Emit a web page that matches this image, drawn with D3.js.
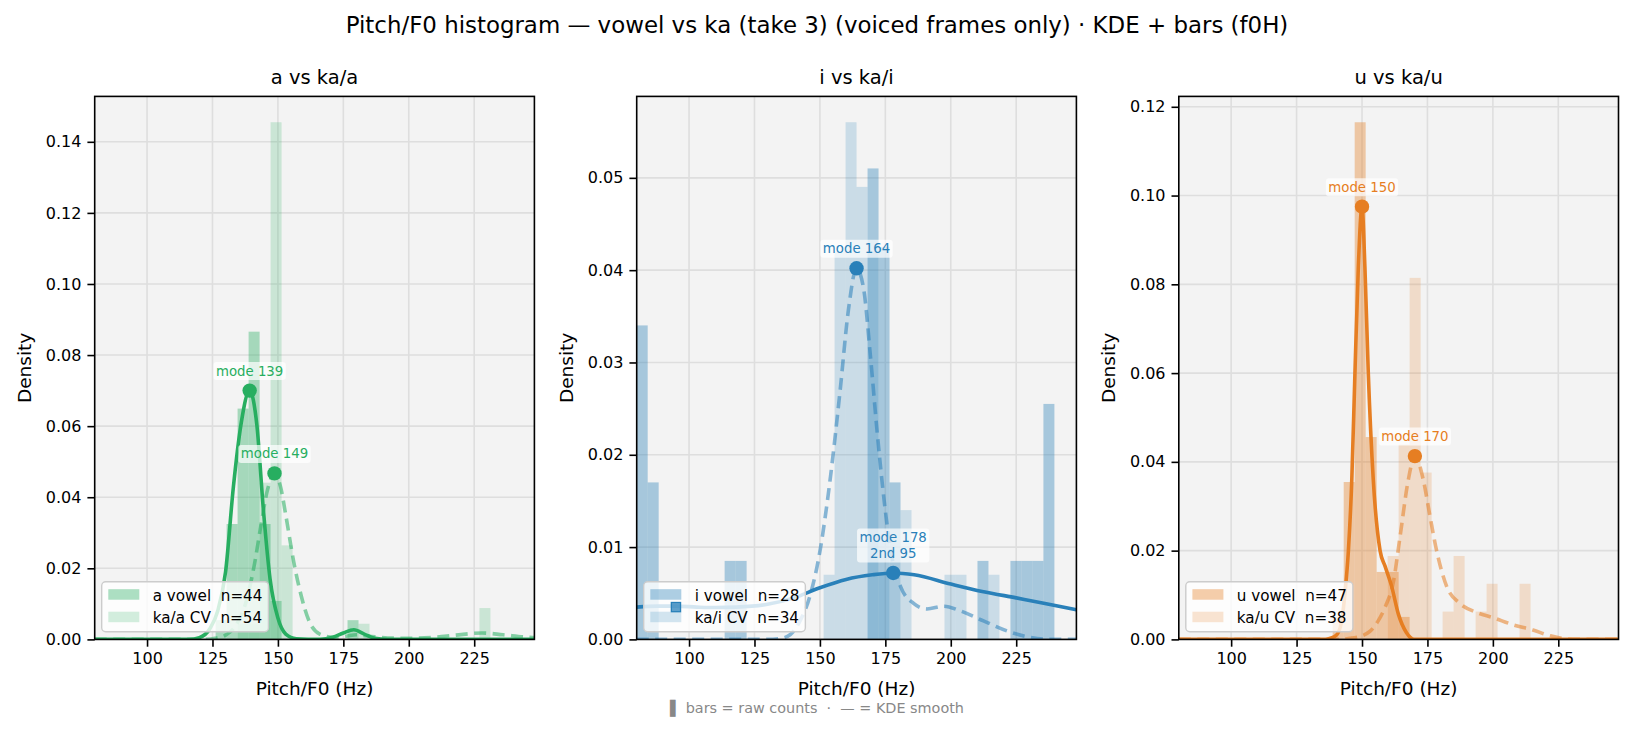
<!DOCTYPE html>
<html>
<head>
<meta charset="utf-8">
<script src="https://cdn.jsdelivr.net/npm/d3@7"></script>
<style>
  body { margin: 0; background: #fff; }
  svg { display: block; font-family: "DejaVu Sans", sans-serif; }
  .tick text { font-size: 16px; fill: #000; }
  .pre { white-space: pre; }
</style>
</head>
<body>
<svg id="chart" width="1634" height="732"></svg>
<script>
// ---------- values ----------
const BIN_W = 4.2;                       // Hz, 40 shared bins over 80-248 Hz
const X_DOMAIN = [80, 248];
const X_TICKS = [100, 125, 150, 175, 200, 225];

const panelTitles = ["a vs ka/a", "i vs ka/i", "u vs ka/u"];
const vowelNames  = ["a vowel", "i vowel", "u vowel"];
const kaNames     = ["ka/a CV", "ka/i CV", "ka/u CV"];
const vowelN = [44, 28, 47];
const kaN    = [54, 34, 38];

const yTicksA = [0, 0.02, 0.04, 0.06, 0.08, 0.10, 0.12, 0.14];
const yTicksI = [0, 0.01, 0.02, 0.03, 0.04, 0.05];
const yTicksU = [0, 0.02, 0.04, 0.06, 0.08, 0.10, 0.12];

// raw counts per bin: [left edge (Hz), count]
const aVowelCounts = [[126.2,1],[130.4,6],[134.6,12],[138.8,16],[143.0,6],[147.2,2],[176.6,1]];
const kaACounts    = [[134.6,1],[138.8,1],[143.0,10],[147.2,33],[151.4,6],[180.8,1],[227.0,2]];
const iVowelCounts = [[80.0,4],[84.2,2],[113.6,1],[117.8,1],[168.2,6],[172.4,5],[176.6,2],
                      [210.2,1],[222.8,1],[227.0,1],[231.2,1],[235.4,3]];
const kaICounts    = [[151.4,1],[155.6,6],[159.8,8],[164.0,7],[168.2,6],[172.4,1],[180.8,2],
                      [197.6,1],[201.8,1],[214.4,1]];
const uVowelCounts = [[138.8,1],[143.0,7],[147.2,23],[151.4,9],[155.6,3],[159.8,3],[164.0,1]];
const kaUCounts    = [[159.8,3],[164.0,7],[168.2,13],[172.4,6],[180.8,1],[185.0,3],[193.4,1],
                      [197.6,2],[210.2,2]];

// KDE curves: [Hz, density]
const aVowelKde = [[80,0],[116,0],[120,0.0005],[124,0.003],[127,0.008],[130,0.019],[133,0.043],
  [136,0.061],[139.2,0.070],[142,0.060],[144.5,0.036],[147,0.017],[150,0.006],[153,0.0015],
  [157,0.0002],[166,0],[171,0.0006],[175,0.0018],[179,0.0027],[183,0.0015],[187,0.0003],[192,0],[248,0]];
const kaAKde = [[80,0],[122,0],[126,0.0003],[130,0.0012],[134,0.004],[138,0.011],[141,0.021],
  [143.5,0.032],[146,0.042],[148.7,0.0467],[151,0.043],[153,0.035],[156,0.022],[159,0.012],
  [162,0.005],[166,0.0015],[171,0.0006],[176,0.0009],[180,0.0013],[185,0.0009],[192,0.0004],
  [200,0.0003],[210,0.0006],[218,0.0012],[228,0.0018],[236,0.0013],[244,0.0007],[248,0.0005]];
const iVowelKde = [[80,0.0035],[88,0.0036],[95,0.0036],[103,0.0035],[110,0.00345],[118,0.0035],
  [130,0.0038],[140,0.0045],[150,0.0056],[160,0.0065],[170,0.0070],[178,0.0072],[186,0.0070],
  [200,0.0060],[212,0.0052],[225,0.0045],[236,0.0039],[248,0.0032]];
const kaIKde = [[80,0],[130,0],[135,0.0001],[138.6,0.0005],[142.4,0.002],[146.2,0.0047],
  [150.1,0.0097],[153.9,0.0173],[157.7,0.0269],[160.9,0.0357],[164,0.0402],[166.7,0.038],
  [169.3,0.0307],[171.8,0.0227],[174.4,0.0154],[177,0.0097],[180.7,0.0058],[185.8,0.0039],
  [190.9,0.0033],[197.3,0.0036],[203.6,0.0031],[212.5,0.002],[222.7,0.0008],[229,0.0003],[238,0],[248,0]];
const uVowelKde = [[80,0],[136,0],[138,0.0003],[140.3,0.001],[142.2,0.0041],[143.5,0.0105],
  [144.8,0.020],[146.1,0.036],[147.3,0.060],[148.6,0.084],[150,0.0975],[151.1,0.084],[152.4,0.060],
  [154.3,0.036],[156.9,0.020],[158.8,0.0165],[161.3,0.012],[163.9,0.0057],[167,0.0015],[170,0],[248,0]];
const kaUKde = [[80,0],[142,0],[146,0.0003],[150,0.0008],[153,0.0018],[156,0.004],[159,0.0075],
  [162,0.013],[164.5,0.023],[167.7,0.036],[170.2,0.0413],[173.4,0.036],[175.9,0.028],[178.5,0.020],
  [182.3,0.012],[187.4,0.0081],[193.7,0.0061],[200.1,0.0049],[207.7,0.0033],[215.3,0.0021],
  [222,0.0008],[228,0.0001],[232,0],[248,0]];

// modes: [Hz, density, label]
const modesA = [[139.2, 0.0700, "mode 139"], [148.7, 0.0467, "mode 149"]];
const modesI = [[164.0, 0.0402, "mode 164"], [178.0, 0.0072, "mode 178\n2nd 95"]];
const modesU = [[150.0, 0.0975, "mode 150"], [170.2, 0.0413, "mode 170"]];
const secondModesI = [[95, 0.0035]];

const COLORS = ["#27ae60", "#2980b9", "#e67e22"];

// ---------- layout ----------
const PANEL_X = [94.7, 636.7, 1178.8];
const PANEL_W = 439.7, PANEL_TOP = 96.4, PANEL_H = 543;

const panels = [
  { title: panelTitles[0], color: COLORS[0], yTicks: yTicksA, modes: modesA, second: [],
    vowel: { name: vowelNames[0], n: vowelN[0], counts: aVowelCounts, kde: aVowelKde },
    ka:    { name: kaNames[0],    n: kaN[0],    counts: kaACounts,    kde: kaAKde } },
  { title: panelTitles[1], color: COLORS[1], yTicks: yTicksI, modes: modesI, second: secondModesI,
    vowel: { name: vowelNames[1], n: vowelN[1], counts: iVowelCounts, kde: iVowelKde },
    ka:    { name: kaNames[1],    n: kaN[1],    counts: kaICounts,    kde: kaIKde } },
  { title: panelTitles[2], color: COLORS[2], yTicks: yTicksU, modes: modesU, second: [],
    vowel: { name: vowelNames[2], n: vowelN[2], counts: uVowelCounts, kde: uVowelKde },
    ka:    { name: kaNames[2],    n: kaN[2],    counts: kaUCounts,    kde: kaUKde } }
];

const svg = d3.select("#chart");

svg.append("text")
    .attr("x", 817).attr("y", 33).attr("text-anchor", "middle")
    .attr("font-size", 22.9).attr("fill", "#000")
    .text("Pitch/F0 histogram — vowel vs ka (take 3) (voiced frames only) · KDE + bars (f0H)");

const x = d3.scaleLinear().domain(X_DOMAIN).range([0, PANEL_W]);

// density = count / (n * bin width)
const toBars = (s) => s.counts.map(([lo, c]) => ({ lo, hi: lo + BIN_W, d: c / (s.n * BIN_W) }));

panels.forEach((p, i) => {
  const vBars = toBars(p.vowel), kBars = toBars(p.ka);
  const yMax = d3.max([...vBars, ...kBars], d => d.d) * 1.05;
  const y = d3.scaleLinear().domain([0, yMax]).range([PANEL_H, 0]);

  const g = svg.append("g").attr("transform", `translate(${PANEL_X[i]},${PANEL_TOP})`);

  g.append("rect").attr("width", PANEL_W).attr("height", PANEL_H).attr("fill", "#f3f3f3");

  const clipId = "clip" + i;
  g.append("clipPath").attr("id", clipId)
    .append("rect").attr("width", PANEL_W).attr("height", PANEL_H);

  // grid
  const grid = g.append("g").attr("stroke", "#dedede").attr("stroke-width", 1.6);
  grid.selectAll(".gx").data(X_TICKS).join("line")
      .attr("x1", d => x(d)).attr("x2", d => x(d)).attr("y1", 0).attr("y2", PANEL_H);
  grid.selectAll(".gy").data(p.yTicks).join("line")
      .attr("y1", d => y(d)).attr("y2", d => y(d)).attr("x1", 0).attr("x2", PANEL_W);

  const plot = g.append("g").attr("clip-path", `url(#${clipId})`);

  // bars
  plot.append("g").selectAll("rect").data(vBars).join("rect")
      .attr("x", d => x(d.lo)).attr("width", d => x(d.hi) - x(d.lo))
      .attr("y", d => y(d.d)).attr("height", d => y(0) - y(d.d))
      .attr("fill", p.color).attr("fill-opacity", 0.38);
  plot.append("g").selectAll("rect").data(kBars).join("rect")
      .attr("x", d => x(d.lo)).attr("width", d => x(d.hi) - x(d.lo))
      .attr("y", d => y(d.d)).attr("height", d => y(0) - y(d.d))
      .attr("fill", p.color).attr("fill-opacity", 0.2);

  // KDE lines
  const line = d3.line().x(d => x(d[0])).y(d => y(d[1])).curve(d3.curveMonotoneX);
  plot.append("path").datum(p.vowel.kde).attr("d", line)
      .attr("fill", "none").attr("stroke", p.color).attr("stroke-width", 3.6);
  plot.append("path").datum(p.ka.kde).attr("d", line)
      .attr("fill", "none").attr("stroke", p.color).attr("stroke-opacity", 0.55)
      .attr("stroke-width", 3.6).attr("stroke-dasharray", "12,6.5");

  // legend (lower left)
  const lg = g.append("g").attr("transform", `translate(7,${PANEL_H - 7.7 - 50})`);
  const lbox = lg.append("rect").attr("height", 50).attr("rx", 4)
      .attr("fill", "#fff").attr("fill-opacity", 0.8)
      .attr("stroke", "#cccccc").attr("stroke-width", 1.4);
  const rows = [[p.vowel, 0.38], [p.ka, 0.2]];
  let maxW = 0;
  rows.forEach(([s, op], r) => {
    lg.append("rect").attr("x", 6.6).attr("y", 7.5 + r * 22.5).attr("width", 31).attr("height", 10.5)
      .attr("fill", p.color).attr("fill-opacity", op);
    const t = lg.append("text").attr("class", "pre").attr("x", 51).attr("y", 19 + r * 22.5)
      .attr("font-size", 15.2).attr("fill", "#000").text(`${s.name}  n=${s.n}`);
    maxW = Math.max(maxW, t.node().getComputedTextLength());
  });
  lbox.attr("width", 51 + maxW + 6);

  // second mode marker
  g.selectAll(".sec").data(p.second).join("rect")
      .attr("x", d => x(d[0]) - 4.6).attr("y", d => y(d[1]) - 4.6)
      .attr("width", 9.2).attr("height", 9.2)
      .attr("fill", p.color).attr("fill-opacity", 0.75)
      .attr("stroke", p.color).attr("stroke-width", 1.3);

  // mode markers + labels
  p.modes.forEach(([mx, my, label]) => {
    const cx = x(mx), cy = y(my);
    g.append("circle").attr("cx", cx).attr("cy", cy).attr("r", 7.2).attr("fill", p.color);
    const lines = label.split("\n");
    const lab = g.append("g");
    const box = lab.append("rect").attr("fill", "#fff").attr("fill-opacity", 0.7).attr("rx", 3);
    const t = lab.append("text").attr("text-anchor", "middle").attr("font-size", 13.3).attr("fill", p.color);
    lines.forEach((ln, k) => {
      t.append("tspan").attr("x", cx).attr("y", cy - 15 - (lines.length - 1 - k) * 16).text(ln);
    });
    const bb = t.node().getBBox();
    box.attr("x", bb.x - 2.5).attr("y", bb.y - 1.5).attr("width", bb.width + 5).attr("height", bb.height + 3);
  });

  // spines
  g.append("rect").attr("width", PANEL_W).attr("height", PANEL_H)
      .attr("fill", "none").attr("stroke", "#000").attr("stroke-width", 1.6);

  // axes
  const ax = g.append("g").attr("transform", `translate(0,${PANEL_H})`)
      .call(d3.axisBottom(x).tickValues(X_TICKS).tickSize(7.3).tickPadding(5.5).tickFormat(d3.format("d")));
  const ay = g.append("g")
      .call(d3.axisLeft(y).tickValues(p.yTicks).tickSize(7.3).tickPadding(6).tickFormat(d3.format(".2f")));
  [ax, ay].forEach(a => {
    a.select(".domain").remove();
    a.selectAll(".tick line").attr("stroke", "#000").attr("stroke-width", 1.6);
    a.selectAll(".tick text").attr("font-family", "DejaVu Sans");
  });

  // titles and axis labels
  g.append("text").attr("x", PANEL_W / 2).attr("y", -12.5).attr("text-anchor", "middle")
      .attr("font-size", 19.5).attr("fill", "#000").text(p.title);
  g.append("text").attr("x", PANEL_W / 2).attr("y", PANEL_H + 56).attr("text-anchor", "middle")
      .attr("font-size", 18.5).attr("fill", "#000").text("Pitch/F0 (Hz)");
  g.append("text").attr("transform", `translate(-64,${PANEL_H / 2}) rotate(-90)`)
      .attr("text-anchor", "middle").attr("font-size", 18.5).attr("fill", "#000").text("Density");
});

svg.append("text").attr("class", "pre")
    .attr("x", 817).attr("y", 712.5).attr("text-anchor", "middle")
    .attr("font-size", 14.4).attr("fill", "#888")
    .text("▌ bars = raw counts  ·  — = KDE smooth");
</script>
</body>
</html>
